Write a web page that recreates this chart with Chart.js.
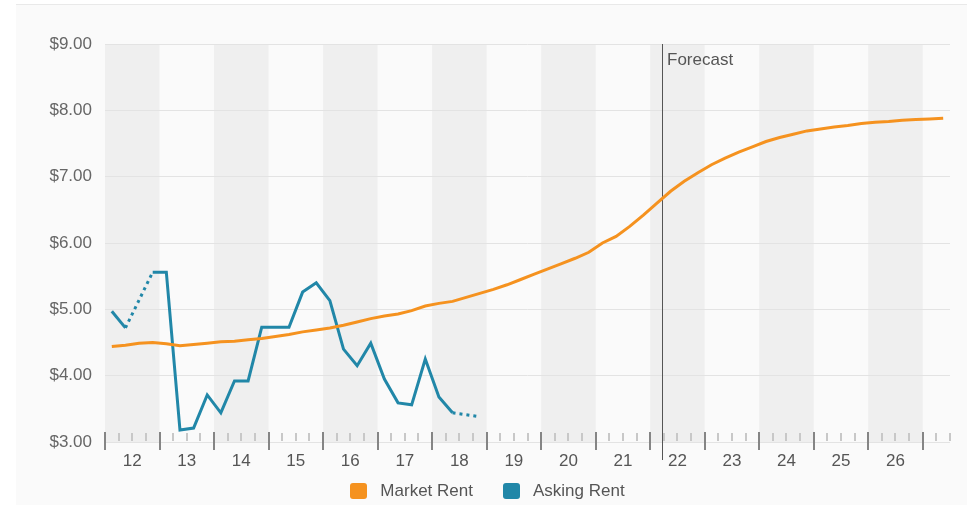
<!DOCTYPE html>
<html>
<head>
<meta charset="utf-8">
<script src="https://cdn.jsdelivr.net/npm/chart.js@4.4.1/dist/chart.umd.min.js"></script>
<style>
  html, body { margin: 0; padding: 0; background: #ffffff; }
  body { width: 975px; height: 505px; position: relative; overflow: hidden;
         font-family: "Liberation Sans", Arial, Helvetica, sans-serif; }
  #panel { position: absolute; left: 16px; top: 4px; width: 951px; height: 501px;
           background: #fafafa; border-top: 1px solid #e9e9e9; box-sizing: border-box; }
  #chart { position: absolute; left: 0; top: 0; }
  #legend { position: absolute; left: 0; top: 482px; width: 975px; display: flex;
            justify-content: center; gap: 30px; font-size: 17px; color: #555; }
  .item { display: flex; align-items: center; gap: 13px; line-height: 18px; }
  .swatch { width: 17px; height: 16px; border-radius: 3px; }
</style>
</head>
<body>
<div id="panel"></div>
<canvas id="chart" width="975" height="505"></canvas>
<div id="legend"></div>
<script>
// Year labels, one per calendar year (2012 onward)
const yearLabels = ['12','13','14','15','16','17','18','19','20','21','22','23','24','25','26'];
const quartersShown = 62;          // 2012 Q1 .. 2027 Q2
const forecastStart = 40.9;        // quarter position of the forecast divider

// Quarterly market rent, $/SF (2012 Q1 .. 2027 Q2)
const marketRent = [
  4.44, 4.46, 4.49, 4.50, 4.48, 4.45, 4.47, 4.49, 4.51, 4.52,
  4.54, 4.56, 4.59, 4.62, 4.66, 4.69, 4.72, 4.76, 4.81, 4.86,
  4.90, 4.93, 4.98, 5.05, 5.09, 5.12, 5.18, 5.24, 5.30, 5.37,
  5.45, 5.53, 5.61, 5.69, 5.77, 5.86, 6.00, 6.10, 6.25, 6.42,
  6.60, 6.78, 6.93, 7.06, 7.18, 7.28, 7.37, 7.45, 7.53, 7.59,
  7.64, 7.69, 7.72, 7.75, 7.77, 7.80, 7.82, 7.83, 7.85, 7.86,
  7.87, 7.88
];

// Quarterly asking rent, $/SF (null = no reading that quarter)
const askingRent = [
  4.97, 4.72, null, 5.56, 5.56, 3.18, 3.21, 3.71, 3.44, 3.92,
  3.92, 4.73, 4.73, 4.73, 5.26, 5.40, 5.13, 4.40, 4.15, 4.49,
  3.95, 3.59, 3.56, 4.25, 3.68, 3.44, null, 3.38
];

const seriesNames = ['Market Rent', 'Asking Rent'];
const seriesColors = ['#f5921f', '#2187a8'];

const toPoints = arr => arr.map((v, i) => ({ x: i + 0.5, y: v }));
const FONT = '"Liberation Sans", Arial, Helvetica, sans-serif';

// Shaded even-year bands behind the grid
const bandsPlugin = {
  id: 'bands',
  beforeDraw(chart) {
    const { ctx, chartArea: a, scales: { x } } = chart;
    ctx.save();
    ctx.fillStyle = '#efefef';
    for (let y = 0; y * 4 < quartersShown; y += 2) {
      const x0 = x.getPixelForValue(y * 4);
      const x1 = x.getPixelForValue(Math.min((y + 1) * 4, quartersShown));
      ctx.fillRect(x0, a.top, x1 - x0, a.bottom - a.top);
    }
    ctx.restore();
  }
};

// Quarter / year tick marks and the forecast divider
const axisMarksPlugin = {
  id: 'axisMarks',
  beforeDatasetsDraw(chart) {
    const { ctx, chartArea: a, scales: { x } } = chart;
    ctx.save();
    for (let q = 0; q <= quartersShown; q++) {
      const px = Math.round(x.getPixelForValue(q));
      const major = q % 4 === 0;
      ctx.beginPath();
      ctx.strokeStyle = major ? '#858585' : '#c8c8c8';
      ctx.lineWidth = 2;
      if (major) { ctx.moveTo(px, a.bottom - 10); ctx.lineTo(px, a.bottom + 8); }
      else { ctx.moveTo(px, a.bottom - 9); ctx.lineTo(px, a.bottom - 1); }
      ctx.stroke();
    }
    const fx = Math.round(x.getPixelForValue(forecastStart)) + 0.5;
    ctx.beginPath();
    ctx.strokeStyle = '#555555';
    ctx.lineWidth = 1;
    ctx.moveTo(fx, a.top);
    ctx.lineTo(fx, a.bottom + 18);
    ctx.stroke();
    ctx.fillStyle = '#555555';
    ctx.font = '17px ' + FONT;
    ctx.textBaseline = 'middle';
    ctx.textAlign = 'left';
    ctx.fillText('Forecast', fx + 4.5, a.top + 16);
    ctx.restore();
  }
};

// A segment that bridges a quarter with no reading is drawn dotted
const dotted = ctx => {
  const prev = ctx.chart.data.datasets[ctx.datasetIndex].data[ctx.p0DataIndex];
  return prev && prev.y === null ? [3, 4] : undefined;
};

const chart = new Chart(document.getElementById('chart'), {
  type: 'line',
  data: {
    datasets: [
      { label: seriesNames[0], data: toPoints(marketRent), borderColor: seriesColors[0],
        backgroundColor: seriesColors[0], borderWidth: 3, pointRadius: 0, tension: 0 },
      { label: seriesNames[1], data: toPoints(askingRent), borderColor: seriesColors[1],
        backgroundColor: seriesColors[1], borderWidth: 3, pointRadius: 0, tension: 0,
        spanGaps: true, segment: { borderDash: dotted } }
    ]
  },
  options: {
    responsive: false,
    animation: false,
    events: [],
    layout: { padding: { top: 44, right: 25, left: 0, bottom: 0 } },
    plugins: { legend: { display: false }, tooltip: { enabled: false } },
    scales: {
      x: {
        type: 'linear', min: 0, max: quartersShown,
        afterBuildTicks: s => { s.ticks = yearLabels.map((_, i) => ({ value: i * 4 + 2 })); },
        afterFit: s => { s.height = 63; },
        grid: { display: false, drawTicks: false },
        border: { display: false },
        ticks: {
          autoSkip: false, maxRotation: 0, padding: 9,
          color: '#555555', font: { size: 17, family: FONT },
          callback: v => yearLabels[(v - 2) / 4] ?? ''
        }
      },
      y: {
        min: 3, max: 9,
        afterFit: s => { s.width = 105; },
        grid: { color: '#e3e3e3', drawTicks: false },
        border: { display: false },
        ticks: {
          stepSize: 1, padding: 13, color: '#666666',
          font: { size: 17, family: FONT },
          callback: v => '$' + Number(v).toFixed(2)
        }
      }
    }
  },
  plugins: [bandsPlugin, axisMarksPlugin]
});

// Legend built from the datasets
const legend = document.getElementById('legend');
chart.data.datasets.forEach(ds => {
  const item = document.createElement('div');
  item.className = 'item';
  const sw = document.createElement('span');
  sw.className = 'swatch';
  sw.style.background = ds.borderColor;
  const txt = document.createElement('span');
  txt.textContent = ds.label;
  item.appendChild(sw);
  item.appendChild(txt);
  legend.appendChild(item);
});
</script>
</body>
</html>
